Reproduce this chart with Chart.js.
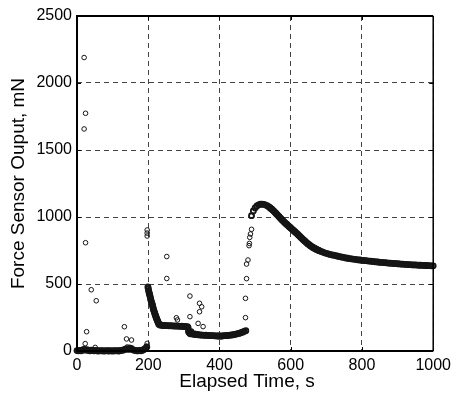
<!DOCTYPE html>
<html><head><meta charset="utf-8">
<script src="https://cdn.jsdelivr.net/npm/chart.js@4"></script>
<style>html,body{margin:0;padding:0;background:#fff}#wrap{width:456px;height:398px}</style>
</head><body><div id="wrap"><canvas id="c" width="456" height="398"></canvas></div>
<script>
const xTicks = [0, 200, 400, 600, 800, 1000];
const yTicks = [0, 500, 1000, 1500, 2000, 2500];
const xTitle = 'Elapsed Time, s';
const yTitle = 'Force Sensor Ouput, mN';

// baseline 0-196 s
const baselineT = [0,4,8,12,16,20,24,28,32,36,40,44,48,52,56,60,64,68,72,76,80,84,88,92,96,100,104,108,112,116,120,124,128,132,136,140,144,148,152,156,160,164,168,172,176,180,184,188,192,196];
const baselineF = [3,1,5,2,8,12,6,10,4,2,6,3,1,4,2,0,3,1,2,0,1,3,0,2,1,0,2,1,3,0,2,4,6,9,14,18,12,16,20,10,6,3,2,1,4,2,5,12,18,30];

// fast decay after 200 s
const decayT = [199,200,201,202,203,204,205,206,207,208,209,210,211,212,213,214,215,216,217,218,219,220,221,222,223,224,225,226,227,228,229];
const decayF = [478,468,452,440,430,420,410,398,385,375,365,358,350,340,330,318,308,300,292,283,275,268,260,252,245,238,232,225,218,212,207];

// plateau 230-312 s
const plateauT = [230,234,238,242,246,250,254,258,262,266,270,274,278,282,286,290,294,298,302,306,310,312,313];
const plateauF = [198,193,192,190,191,189,190,188,189,187,188,186,187,185,186,184,185,183,184,182,181,175,150];

// low segment 314-474 s
const lowT = [314,316,318,320,322,326,330,334,338,342,346,350,354,358,362,366,370,374,378,382,386,390,394,398,402,406,410,414,418,422,426,430,434,438,442,446,450,454,458,462,466,470,474];
const lowF = [140,135,128,145,130,125,127,122,124,120,121,118,119,117,118,116,116,115,114,115,113,113,112,112,111,112,113,114,114,116,117,118,120,121,123,126,128,131,134,138,142,147,152];

// relaxation curve 490-1000 s
const curveT = [490,495,500,505,510,515,520,525,530,535,540,542.5,545,547.5,550,552.5,555,557.5,560,562.5,565,567.5,570,572.5,575,577.5,580,582.5,585,587.5,590,592.5,595,597.5,600,602.5,605,607.5,610,612.5,615,617.5,620,622.5,625,627.5,630,632.5,635,637.5,640,642.5,645,647.5,650,652.5,655,657.5,660,662.5,665,667.5,670,672.5,675,677.5,680,685,690,695,700,705,710,715,720,725,730,735,740,745,750,755,760,765,770,775,780,785,790,795,800,805,810,815,820,825,830,835,840,845,850,855,860,865,870,875,880,885,890,895,900,905,910,915,920,925,930,935,940,945,950,955,960,965,970,975,980,985,990,995,1000];
const curveF = [1010,1045,1068,1082,1091,1095,1096,1094,1089,1082,1073,1068,1062,1056,1050,1044,1037,1030,1023,1016,1009,1002,994,987,980,973,967,960,954,948,942,936,930,924,918,912,906,900,894,888,882,876,870,863,857,850,844,837,831,825,819,813,807,801,796,791,786,781,777,773,769,765,762,758,755,752,749,743,738,733,729,725,721,718,715,712,709,706,703,700,697,694,692,690,688,686,684,682,680,679,677,676,674,673,671,670,668,667,665,664,662,661,660,659,657,656,655,654,653,652,651,650,649,648,647,646,645,644,643,642,642,641,640,640,639,638,638,637,637,636,636];

// scattered readings
const outlierT = [20,24,20,24,40,54,27,23,51,133,139,153,141,148,190,194,197,197,197,197,252,252,317,317,344,350,344,340,354,279,282,473,473,476,476,480,483,484,485,487,490,489];
const outlierF = [2190,1774,1657,808,457,375,144,55,27,181,90,82,30,28,20,35,57,903,880,858,705,541,410,256,356,330,293,206,182,248,232,249,393,540,649,679,786,803,848,873,908,1007];

function zip(t, f) { return t.map((x, i) => ({ x: x, y: f[i] })); }
const densePoints = [].concat(
  zip(baselineT, baselineF), zip(decayT, decayF), zip(plateauT, plateauF),
  zip(lowT, lowF), zip(curveT, curveF)
);
const sparsePoints = zip(outlierT, outlierF);

Chart.defaults.font.family = '"Liberation Sans", Arial, sans-serif';
Chart.defaults.color = '#000';

const framePlugin = {
  id: 'frame',
  afterDraw(chart) {
    const { ctx, chartArea: a, scales } = chart;
    ctx.save();
    ctx.strokeStyle = '#000';
    ctx.lineWidth = 1;
    xTicks.forEach(v => {
      const px = Math.round(scales.x.getPixelForValue(v)) + 0.5;
      ctx.beginPath(); ctx.moveTo(px, a.bottom); ctx.lineTo(px, a.bottom - 4);
      ctx.moveTo(px, a.top); ctx.lineTo(px, a.top + 4); ctx.stroke();
    });
    yTicks.forEach(v => {
      const py = Math.round(scales.y.getPixelForValue(v)) + 0.5;
      ctx.beginPath(); ctx.moveTo(a.left, py); ctx.lineTo(a.left + 4, py);
      ctx.moveTo(a.right, py); ctx.lineTo(a.right - 4, py); ctx.stroke();
    });
    ctx.lineWidth = 2;
    ctx.beginPath();
    ctx.moveTo(a.right, a.top); ctx.lineTo(a.left, a.top); ctx.lineTo(a.left, a.bottom); ctx.lineTo(a.right, a.bottom);
    ctx.stroke();
    ctx.lineWidth = 1.5;
    ctx.beginPath(); ctx.moveTo(a.right, a.top); ctx.lineTo(a.right, a.bottom); ctx.stroke();
    ctx.fillStyle = '#000';
    ctx.font = '19px "Liberation Sans", Arial, sans-serif';
    ctx.textAlign = 'center';
    ctx.textBaseline = 'middle';
    ctx.fillText(xTitle, 247, 382);
    ctx.restore();
  }
};

new Chart(document.getElementById('c'), {
  type: 'scatter',
  data: {
    datasets: [{
      data: densePoints,
      clip: false,
      pointStyle: 'circle',
      pointRadius: 2.5,
      pointBorderWidth: 1.8,
      pointBorderColor: '#151515',
      pointBackgroundColor: 'rgba(0,0,0,0)',
      showLine: false
    }, {
      data: sparsePoints,
      clip: false,
      pointStyle: 'circle',
      pointRadius: 2.3,
      pointBorderWidth: 1,
      pointBorderColor: '#151515',
      pointBackgroundColor: 'rgba(0,0,0,0)',
      showLine: false
    }]
  },
  options: {
    responsive: false,
    animation: false,
    devicePixelRatio: 1,
    layout: { padding: { left: 0, top: 16, right: 17, bottom: 0 }, autoPadding: false },
    plugins: { legend: { display: false }, tooltip: { enabled: false } },
    scales: {
      x: {
        type: 'linear', min: 0, max: 1000,
        afterFit(s) { s.height = 47; },
        afterBuildTicks(s) { s.ticks = xTicks.map(v => ({ value: v })); },
        ticks: { font: { size: 16 }, padding: 5, maxRotation: 0, autoSkip: false, color: '#000', callback: v => String(v) },
        grid: { color: '#444', lineWidth: 1, drawTicks: false },
        border: { display: false, dash: [5, 4] },
        title: { display: false }
      },
      y: {
        type: 'linear', min: 0, max: 2500,
        afterFit(s) { s.width = 77; },
        afterBuildTicks(s) { s.ticks = yTicks.map(v => ({ value: v })); },
        ticks: { font: { size: 16 }, padding: 5, color: '#000', callback: v => String(v) },
        grid: { color: '#444', lineWidth: 1, drawTicks: false },
        border: { display: false, dash: [5, 4] },
        title: { display: true, text: yTitle, font: { size: 19 }, padding: { top: 7, bottom: 0 }, color: '#000' }
      }
    }
  },
  plugins: [framePlugin]
});
</script>
</body></html>
